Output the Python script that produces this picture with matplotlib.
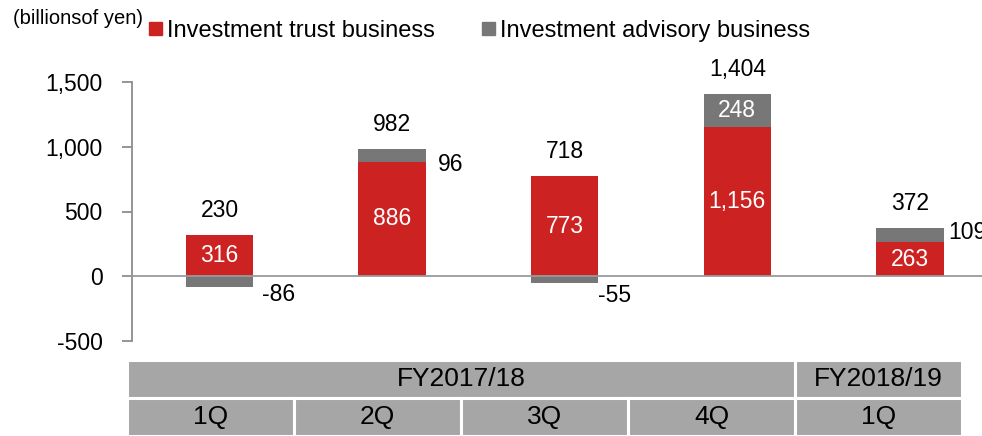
import numpy as np
import matplotlib.pyplot as plt
from matplotlib.patches import Rectangle, Patch
from matplotlib.ticker import FuncFormatter

plt.rcParams['font.family'] = ['Liberation Sans', 'DejaVu Sans']

# data (billions of yen)
quarters = ['1Q', '2Q', '3Q', '4Q', '1Q']
fiscal_years = ['FY2017/18', 'FY2018/19']
fy_span = [4, 1]
trust = [316, 886, 773, 1156, 263]
advisory = [-86, 96, -55, 248, 109]
totals = [230, 982, 718, 1404, 372]

RED = '#CC2222'
GRAY = '#777777'
AXC = '#8C8C8C'
FS = 16.5

fig = plt.figure(figsize=(9.82, 4.36), dpi=100)
ax = fig.add_axes([132/982, 95/436, 850/982, 259/436])

x = np.arange(len(quarters))
w = 0.39
trust = np.array(trust)
advisory = np.array(advisory)
adv_bottom = np.where(advisory >= 0, trust, 0)
ax.bar(x, trust, w, color=RED, zorder=2)
ax.bar(x, advisory, w, bottom=adv_bottom, color=GRAY, zorder=2)

ax.set_xlim(-0.507, 4.418)
ax.set_ylim(-500, 1500)
ax.set_yticks([-500, 0, 500, 1000, 1500])
ax.yaxis.set_major_formatter(FuncFormatter(lambda v, p: '{:,.0f}'.format(v)))
ax.set_xticks([])
for s in ['top', 'right', 'bottom']:
    ax.spines[s].set_visible(False)
ax.spines['left'].set_color(AXC)
ax.spines['left'].set_linewidth(1.3)
ax.tick_params(axis='y', direction='out', length=7, width=1.3, color=AXC,
               pad=14, labelsize=FS)
ax.axhline(0, xmin=-7/850, xmax=1, color='#9A9A9A', lw=1.3, clip_on=False, zorder=3)

# labels in the red segment
for i in range(len(x)):
    ax.text(x[i], trust[i] / 2, '{:,}'.format(trust[i]), color='white',
            ha='center', va='center', fontsize=FS, zorder=4)

# advisory labels
adv_offsets = [(9, -13), (12, -9), (0, -16), None, (5, 3)]
for i in range(len(x)):
    mid = adv_bottom[i] + advisory[i] / 2
    if adv_offsets[i] is None:
        ax.text(x[i], mid, '{:,}'.format(advisory[i]), color='white',
                ha='center', va='center', fontsize=FS, zorder=4)
    else:
        ax.annotate('{:,}'.format(advisory[i]), xy=(x[i] + w/2, mid),
                    xytext=adv_offsets[i], textcoords='offset pixels',
                    ha='left', va='center', fontsize=FS)

# totals above bars
for i in range(len(x)):
    top = trust[i] + max(advisory[i], 0)
    ax.annotate('{:,}'.format(totals[i]), xy=(x[i], top), xytext=(0, 25),
                textcoords='offset pixels', ha='center', va='center', fontsize=FS)

fig.text(13/982, 1 - 19/436, '(billionsof yen)', fontsize=14.5, va='center', ha='left')
handles = [Patch(color=RED), Patch(color=GRAY)]
fig.legend(handles, ['Investment trust business', 'Investment advisory business'],
           loc='center left', bbox_to_anchor=(149/982, 1 - 31/436), ncol=2,
           frameon=False, fontsize=17, handlelength=0.55, handleheight=0.5,
           handletextpad=0.2, columnspacing=2.0, borderaxespad=0, borderpad=0)

# category table underneath
tax = fig.add_axes([127/982, 0, 835/982, 76/436])
tax.set_xlim(0, 5)
tax.set_ylim(0, 2)
tax.axis('off')
cell = '#A6A6A6'
start = 0
for fy, span in zip(fiscal_years, fy_span):
    tax.add_patch(Rectangle((start, 1), span, 1, facecolor=cell, edgecolor='white', lw=2.2))
    tax.text(start + span / 2, 1.5, fy, ha='center', va='center', fontsize=19)
    start += span
for i, q in enumerate(quarters):
    tax.add_patch(Rectangle((i, 0), 1, 1, facecolor=cell, edgecolor='white', lw=2.2))
    tax.text(i + 0.5, 0.5, q, ha='center', va='center', fontsize=19)

fig.savefig('out.png', dpi=100)
